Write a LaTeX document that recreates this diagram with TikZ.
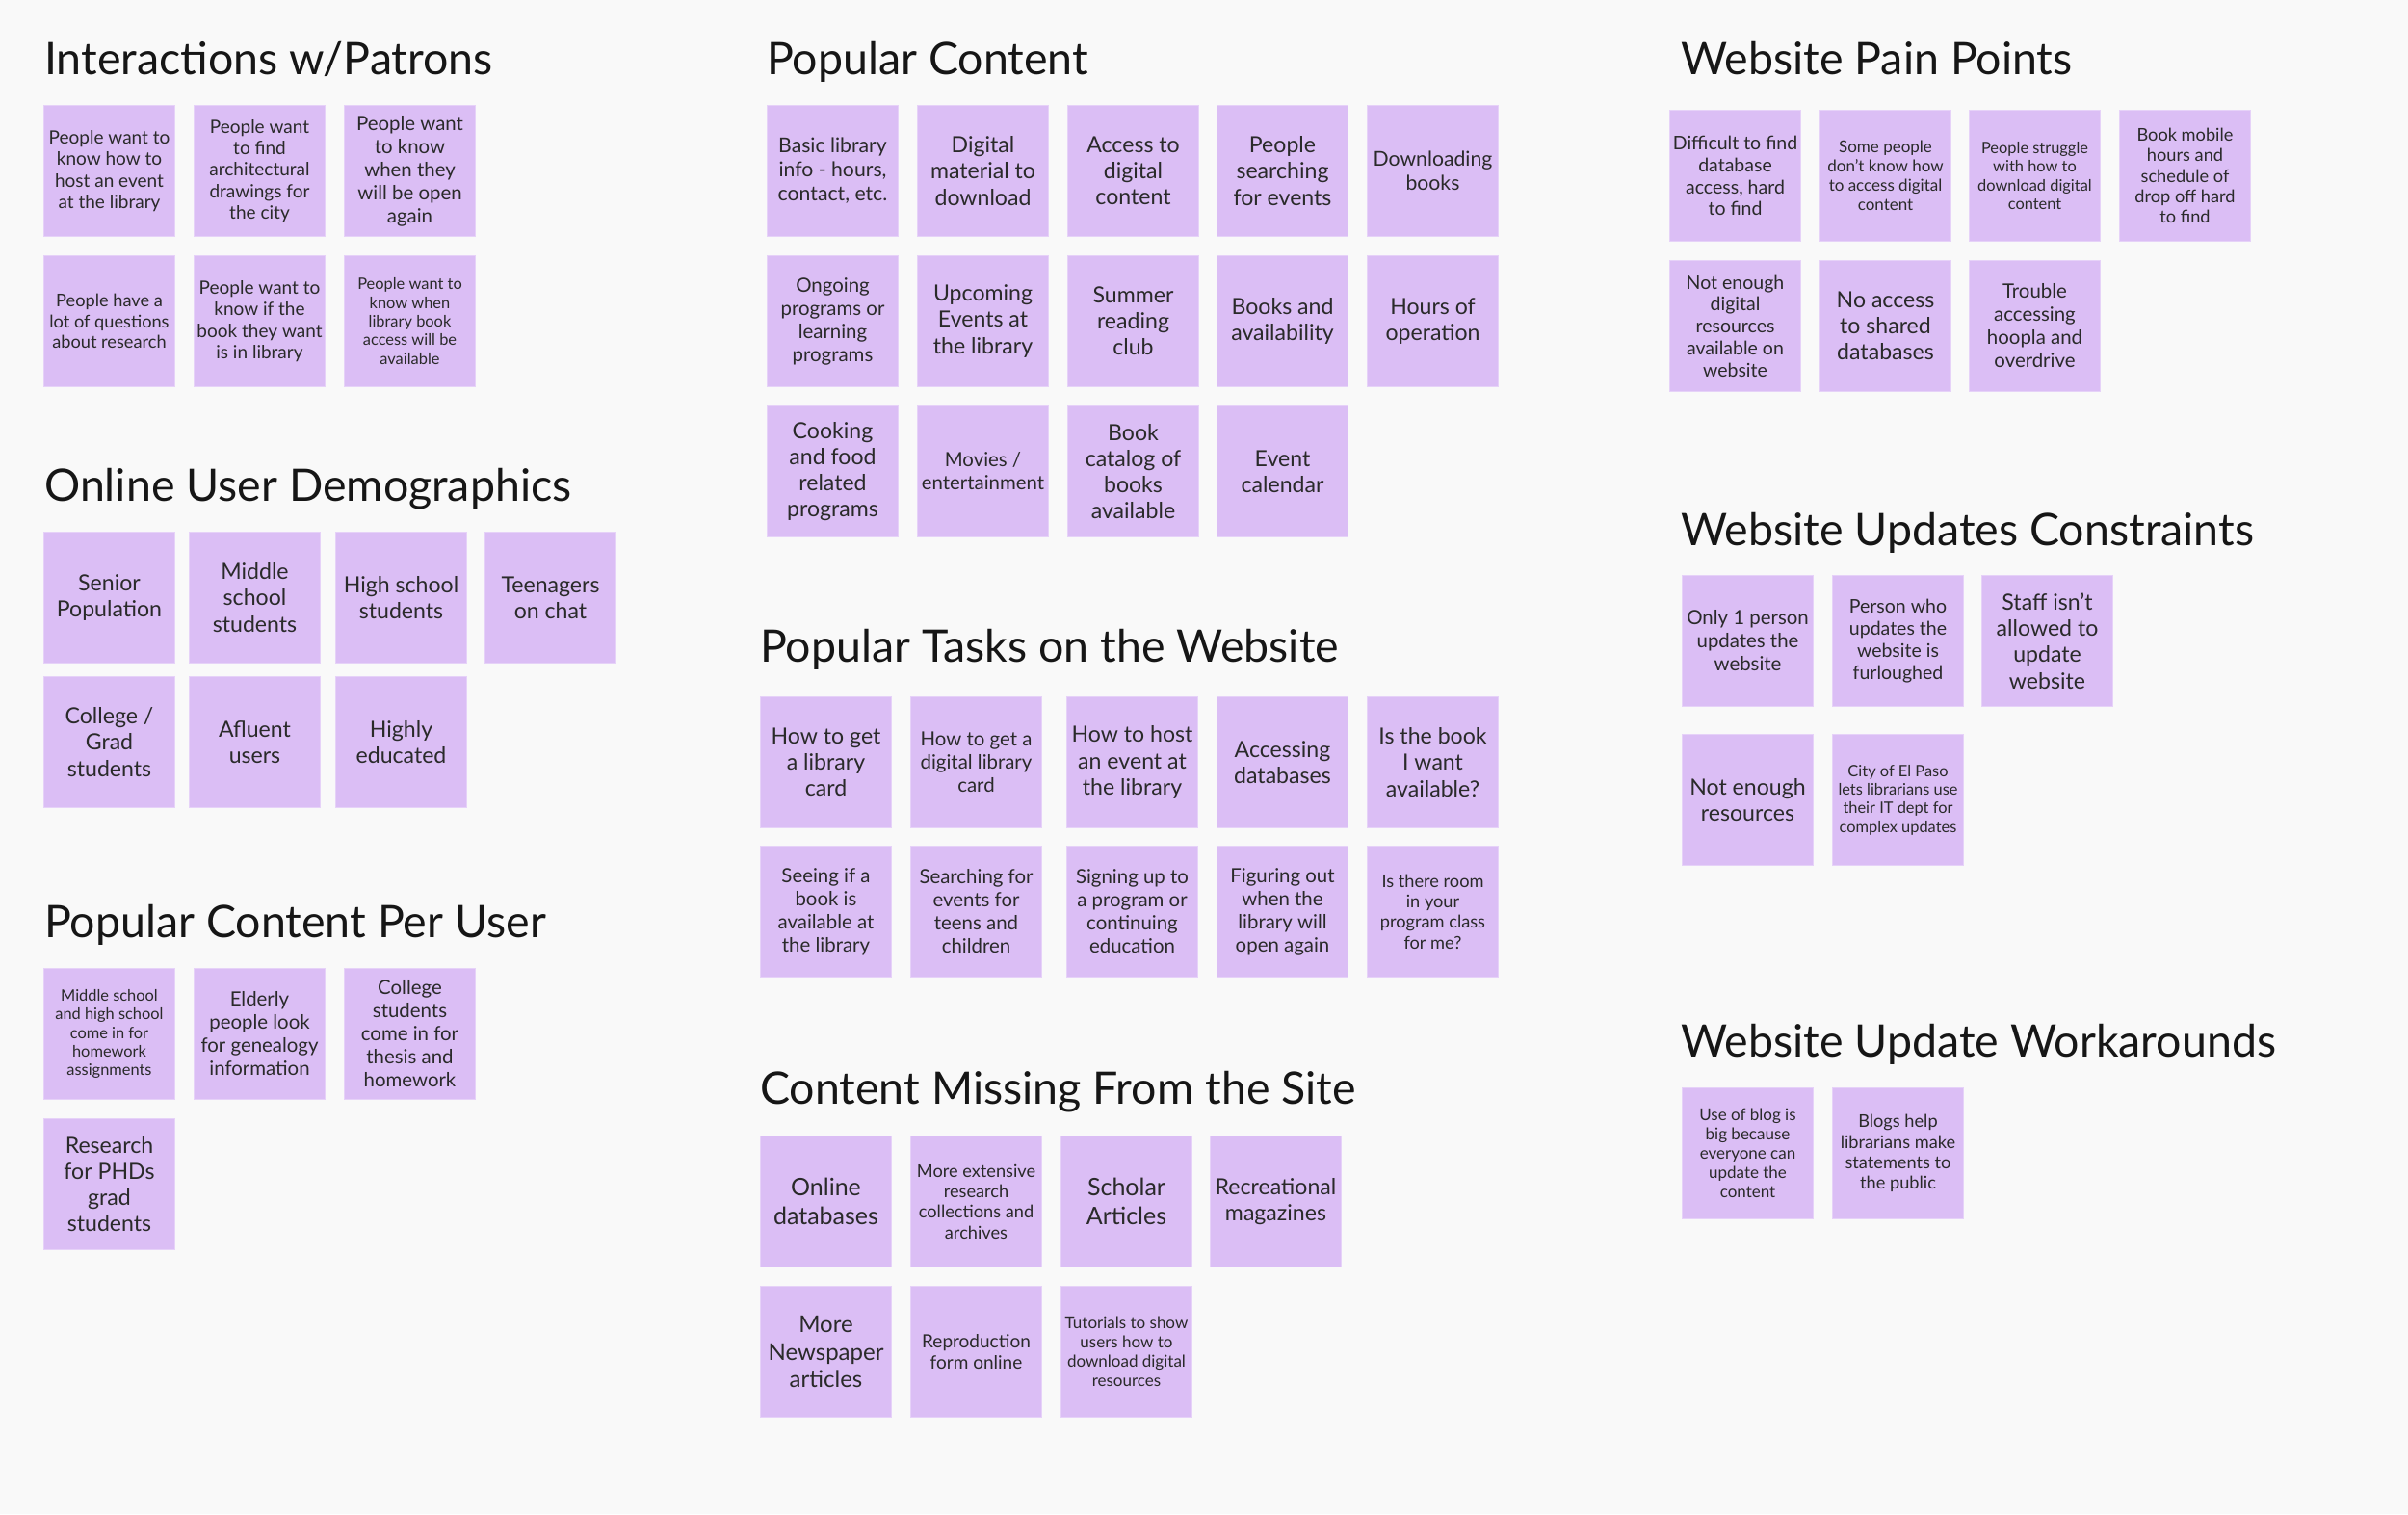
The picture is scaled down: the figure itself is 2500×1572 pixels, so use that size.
\documentclass[tikz,border=0pt]{standalone}
\usepackage{fontspec}
\setmainfont{Lato}
\setsansfont{Lato}
\definecolor{bgc}{HTML}{F9F9F9}
\definecolor{stickyc}{HTML}{DBBEF5}
\definecolor{stickyedge}{HTML}{E6D2F8}
\definecolor{textc}{HTML}{2A2A2A}
\definecolor{titlec}{HTML}{161616}
\tikzset{
  sticky/.style={rectangle, fill=stickyc, draw=stickyedge, line width=1pt,
    minimum width=136pt, minimum height=136pt, inner sep=0pt,
    align=center, anchor=north west, text=textc},
  ttl/.style={anchor=base west, inner sep=0pt, text=titlec,
    font=\fontsize{46.5}{52}\selectfont},
  p19/.style={font=\fontsize{16.4}{19.3}\selectfont},
  p20/.style={font=\fontsize{17.0}{20}\selectfont},
  p21/.style={font=\fontsize{18.2}{21.3}\selectfont},
  p22/.style={font=\fontsize{19.0}{22.3}\selectfont},
  p23/.style={font=\fontsize{19.5}{22.8}\selectfont},
  p24/.style={font=\fontsize{20.4}{24}\selectfont},
  p25/.style={font=\fontsize{21.2}{25}\selectfont},
  p27/.style={font=\fontsize{23.1}{27.2}\selectfont},
  p28/.style={font=\fontsize{24.0}{28.3}\selectfont},
  p29/.style={font=\fontsize{25.0}{29.3}\selectfont}
}
\begin{document}
\begin{tikzpicture}[x=1pt,y=-1pt]
\fill[bgc] (0,0) rectangle (2500,1572);
\useasboundingbox (0,0) rectangle (2500,1572);

% ---------- Interactions w/Patrons ----------
\node[ttl] (t1) at (46,77) {Interactions w/Patrons};
\node[sticky,p22] (ip1) at (45,109) {People want to\\know how to\\host an event\\at the library};
\node[sticky,p22] (ip2) at (201,109) {People want\\to find\\architectural\\drawings for\\the city};
\node[sticky,p24] (ip3) at (357,109) {People want\\to know\\when they\\will be open\\again};
\node[sticky,p21] (ip4) at (45,265) {People have a\\lot of questions\\about research};
\node[sticky,p22] (ip5) at (201,265) {People want to\\know if the\\book they want\\is in library};
\node[sticky,p19] (ip6) at (357,265) {People want to\\know when\\library book\\access will be\\available};

% ---------- Online User Demographics ----------
\node[ttl] (t2) at (46,520) {Online User Demographics};
\node[sticky,p27] (ud1) at (45,552) {Senior\\Population};
\node[sticky,p27] (ud2) at (196,552) {Middle\\school\\students};
\node[sticky,p27] (ud3) at (348,552) {High school\\students};
\node[sticky,p27] (ud4) at (503,552) {Teenagers\\on chat};
\node[sticky,p27] (ud5) at (45,702) {College /\\Grad\\students};
\node[sticky,p27] (ud6) at (196,702) {Afluent\\users};
\node[sticky,p27] (ud7) at (348,702) {Highly\\educated};

% ---------- Popular Content Per User ----------
\node[ttl] (t3) at (46,973) {Popular Content Per User};
\node[sticky,p19] (pu1) at (45,1005) {Middle school\\and high school\\come in for\\homework\\assignments};
\node[sticky,p24] (pu2) at (201,1005) {Elderly\\people look\\for genealogy\\information};
\node[sticky,p24] (pu3) at (357,1005) {College\\students\\come in for\\thesis and\\homework};
\node[sticky,p27] (pu4) at (45,1161) {Research\\for PHDs\\grad\\students};

% ---------- Popular Content ----------
\node[ttl] (t4) at (796,77) {Popular Content};
\node[sticky,p25] (pc1) at (796,109) {Basic library\\info - hours,\\contact, etc.};
\node[sticky,p27] (pc2) at (952,109) {Digital\\material to\\download};
\node[sticky,p27] (pc3) at (1108,109) {Access to\\digital\\content};
\node[sticky,p27] (pc4) at (1263,109) {People\\searching\\for events};
\node[sticky,p25] (pc5) at (1419,109) {Downloading\\books};
\node[sticky,p24] (pc6) at (796,265) {Ongoing\\programs or\\learning\\programs};
\node[sticky,p27] (pc7) at (952,265) {Upcoming\\Events at\\the library};
\node[sticky,p27] (pc8) at (1108,265) {Summer\\reading\\club};
\node[sticky,p27] (pc9) at (1263,265) {Books and\\availability};
\node[sticky,p27] (pc10) at (1419,265) {Hours of\\operation};
\node[sticky,p27] (pc11) at (796,421) {Cooking\\and food\\related\\programs};
\node[sticky,p24] (pc12) at (952,421) {Movies /\\entertainment};
\node[sticky,p27] (pc13) at (1108,421) {Book\\catalog of\\books\\available};
\node[sticky,p27] (pc14) at (1263,421) {Event\\calendar};

% ---------- Popular Tasks on the Website ----------
\node[ttl] (t5) at (789,687) {Popular Tasks on the Website};
\node[sticky,p27] (pt1) at (789,723) {How to get\\a library\\card};
\node[sticky,p24] (pt2) at (945,723) {How to get a\\digital library\\card};
\node[sticky,p27] (pt3) at (1107,723) {How to host\\an event at\\the library};
\node[sticky,p27] (pt4) at (1263,723) {Accessing\\databases};
\node[sticky,p27] (pt5) at (1419,723) {Is the book\\I want\\available?};
\node[sticky,p24] (pt6) at (789,878) {Seeing if a\\book is\\available at\\the library};
\node[sticky,p24] (pt7) at (945,878) {Searching for\\events for\\teens and\\children};
\node[sticky,p24] (pt8) at (1107,878) {Signing up to\\a program or\\continuing\\education};
\node[sticky,p24] (pt9) at (1263,878) {Figuring out\\when the\\library will\\open again};
\node[sticky,p21] (pt10) at (1419,878) {Is there room\\in your\\program class\\for me?};

% ---------- Content Missing From the Site ----------
\node[ttl] (t6) at (789,1146) {Content Missing From the Site};
\node[sticky,p29] (cm1) at (789,1179) {Online\\databases};
\node[sticky,p21] (cm2) at (945,1179) {More extensive\\research\\collections and\\archives};
\node[sticky,p29] (cm3) at (1101,1179) {Scholar\\Articles};
\node[sticky,p27] (cm4) at (1256,1179) {Recreational\\magazines};
\node[sticky,p28] (cm5) at (789,1335) {More\\Newspaper\\articles};
\node[sticky,p22] (cm6) at (945,1335) {Reproduction\\form online};
\node[sticky,p20] (cm7) at (1101,1335) {Tutorials to show\\users how to\\download digital\\resources};

% ---------- Website Pain Points ----------
\node[ttl] (t7) at (1745,77) {Website Pain Points};
\node[sticky,p23] (pp1) at (1733,114) {Difficult to find\\database\\access, hard\\to find};
\node[sticky,p20] (pp2) at (1889,114) {Some people\\don't know how\\to access digital\\content};
\node[sticky,p19] (pp3) at (2044,114) {People struggle\\with how to\\download digital\\content};
\node[sticky,p21] (pp4) at (2200,114) {Book mobile\\hours and\\schedule of\\drop off hard\\to find};
\node[sticky,p23] (pp5) at (1733,270) {Not enough\\digital\\resources\\available on\\website};
\node[sticky,p27] (pp6) at (1889,270) {No access\\to shared\\databases};
\node[sticky,p24] (pp7) at (2044,270) {Trouble\\accessing\\hoopla and\\overdrive};

% ---------- Website Updates Constraints ----------
\node[ttl] (t8) at (1745,566) {Website Updates Constraints};
\node[sticky,p24] (uc1) at (1746,597) {Only 1 person\\updates the\\website};
\node[sticky,p23] (uc2) at (1902,597) {Person who\\updates the\\website is\\furloughed};
\node[sticky,p27] (uc3) at (2057,597) {Staff isn't\\allowed to\\update\\website};
\node[sticky,p27] (uc4) at (1746,762) {Not enough\\resources};
\node[sticky,p19] (uc5) at (1902,762) {City of El Paso\\lets librarians use\\their IT dept for\\complex updates};

% ---------- Website Update Workarounds ----------
\node[ttl] (t9) at (1745,1097) {Website Update Workarounds};
\node[sticky,p20] (uw1) at (1746,1129) {Use of blog is\\big because\\everyone can\\update the\\content};
\node[sticky,p21] (uw2) at (1902,1129) {Blogs help\\librarians make\\statements to\\the public};
\end{tikzpicture}
\end{document}
